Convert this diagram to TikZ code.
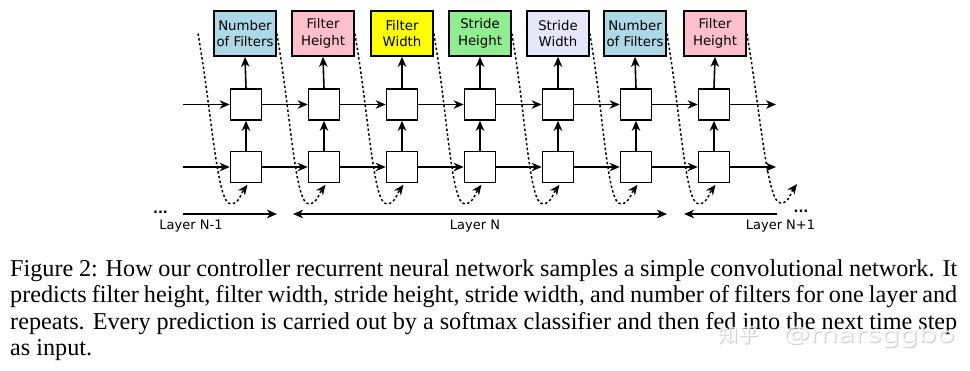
\documentclass[tikz,border=0pt]{standalone}
\usepackage{fontspec}
\setmainfont{Liberation Serif}
\newfontfamily\dejavu{DejaVu Sans}
\newfontfamily\cjk{Noto Sans CJK SC}
\newfontfamily\wmlatin{Noto Sans}
\usetikzlibrary{arrows.meta,calc}
\definecolor{nfblue}{HTML}{ADD8E6}
\definecolor{fhpink}{HTML}{FFC0CB}
\definecolor{fwyellow}{HTML}{FFFF00}
\definecolor{shgreen}{HTML}{90EE90}
\definecolor{swlav}{HTML}{E6E6FA}
\newcommand{\wmtext}{{\cjk\fontsize{20}{20}\selectfont 知乎}\hspace{25pt}\scalebox{1.36}[1]{\wmlatin\fontsize{22}{22}\selectfont @marsggbo}}
\begin{document}
\begin{tikzpicture}[x=1pt,y=-1pt,
  >={Stealth[length=10pt,width=8.5pt,inset=3pt]},
  cell/.style={draw,line width=1.6pt,minimum size=31pt,inner sep=0pt,fill=white},
  outbox/.style={draw,line width=1.6pt,minimum width=62pt,minimum height=45pt,inner sep=0pt,align=center,
    font=\dejavu\fontsize{13.3}{16.5}\selectfont},
  flow/.style={line width=1.6pt,->},
  fb/.style={line width=1.5pt,dash pattern=on 2.4pt off 2.4pt,->},
  lbl/.style={font=\dejavu\fontsize{13}{15}\selectfont,inner sep=0pt},
  captext/.style={anchor=base west,inner sep=0pt,font=\fontsize{24.2}{26}\selectfont}]
\useasboundingbox[fill=white] (0,0) rectangle (970,370);

% output boxes
\node[outbox,fill=nfblue]   (b0) at (245,33.5) {Number\\of Filters};
\node[outbox,fill=fhpink]   (b1) at (323,33.5) {Filter\\Height};
\node[outbox,fill=fwyellow] (b2) at (402,33.5) {Filter\\Width};
\node[outbox,fill=shgreen]  (b3) at (480,33.5) {Stride\\Height};
\node[outbox,fill=swlav]    (b4) at (558,33.5) {Stride\\Width};
\node[outbox,fill=nfblue]   (b5) at (635,33.5) {Number\\of Filters};
\node[outbox,fill=fhpink]   (b6) at (715,33.5) {Filter\\Height};

% cells
\foreach \i/\x in {0/246,1/324,2/402,3/480,4/558,5/636,6/714}{
  \node[cell] (u\i) at (\x,104.5) {};
  \node[cell] (l\i) at (\x,167) {};
}

% free ends
\coordinate (uin) at (183,104.5);
\coordinate (lin) at (183,167);
\coordinate (uout) at (776,104.5);
\coordinate (lout) at (776,167);
\coordinate (s0) at (198,33.5);
\coordinate (t7) at (797,184);

% horizontal flow
\draw[flow] (uin) -- (u0.west);
\draw[flow] (lin) -- (l0.west);
\foreach \i [evaluate=\i as \j using int(\i+1)] in {0,...,5}{
  \draw[flow] (u\i.east) -- (u\j.west);
  \draw[flow] (l\i.east) -- (l\j.west);
}
\draw[flow] (u6.east) -- (uout);
\draw[flow] (l6.east) -- (lout);

% vertical flow
\foreach \i in {0,...,6}{
  \draw[flow] (l\i.north) -- (u\i.south);
  \draw[flow] (u\i.north) -- (b\i.south);
}

% dotted feedback curves
\draw[fb] (s0) .. controls +(14,80) and +(-14,2) .. ($(l0.south)+(-15,20.5)$)
  .. controls +(8,0) and +(-6,8) .. ($(l0.south)+(1.5,1.5)$);
\foreach \i [evaluate=\i as \j using int(\i+1)] in {0,...,5}{
  \draw[fb] (b\i.east) .. controls +(14,80) and +(-14,2) .. ($(l\j.south)+(-15,20.5)$)
    .. controls +(8,0) and +(-6,8) .. ($(l\j.south)+(1.5,1.5)$);
}
\draw[fb] (b6.east) .. controls +(14,80) and +(-14,2) .. ($(t7)+(-16,19)$)
  .. controls +(8,0) and +(-6,8) .. (t7);

% layer arrows
\coordinate (n1a) at (183,214);
\coordinate (n1b) at (277,214);
\coordinate (na) at (293,214);
\coordinate (nb) at (667,214);
\coordinate (n2a) at (684,214);
\coordinate (n2b) at (777,214);
\draw[flow] (n1a) -- (n1b);
\draw[flow,<->] (na) -- (nb);
\draw[flow,<-] (n2a) -- (n2b);
\node[lbl,font=\dejavu\bfseries\fontsize{13}{15}\selectfont] (dl) at (160.5,212.5) {...};
\node[lbl,font=\dejavu\bfseries\fontsize{13}{15}\selectfont] (dr) at (801,211.5) {...};
\node[lbl,anchor=base] (ln1) at (191,229) {Layer N-1};
\node[lbl,anchor=base] (ln) at (475,229) {Layer N};
\node[lbl,anchor=base] (ln2) at (780.5,229) {Layer N+1};

% caption
\node[captext] (c1) at (10,276) {\makebox[947pt][s]{Figure 2: How our controller recurrent neural network samples a simple convolutional network.  It}};
\node[captext] (c2) at (10,302.5) {\makebox[947pt][s]{predicts filter height, filter width, stride height, stride width, and number of filters for one layer and}};
\node[captext] (c3) at (10,329) {\makebox[947pt][s]{repeats.  Every prediction is carried out by a softmax classifier and then fed into the next time step}};
\node[captext] (c4) at (10,355) {as input.};

% watermark
\node[anchor=base west,inner sep=0pt,text=gray!55,opacity=0.7] (wm0) at (719,343.5) {\wmtext};
\node[anchor=base west,inner sep=0pt,text=white,opacity=0.8] (wm1) at (718,342.5) {\wmtext};
\end{tikzpicture}
\end{document}
